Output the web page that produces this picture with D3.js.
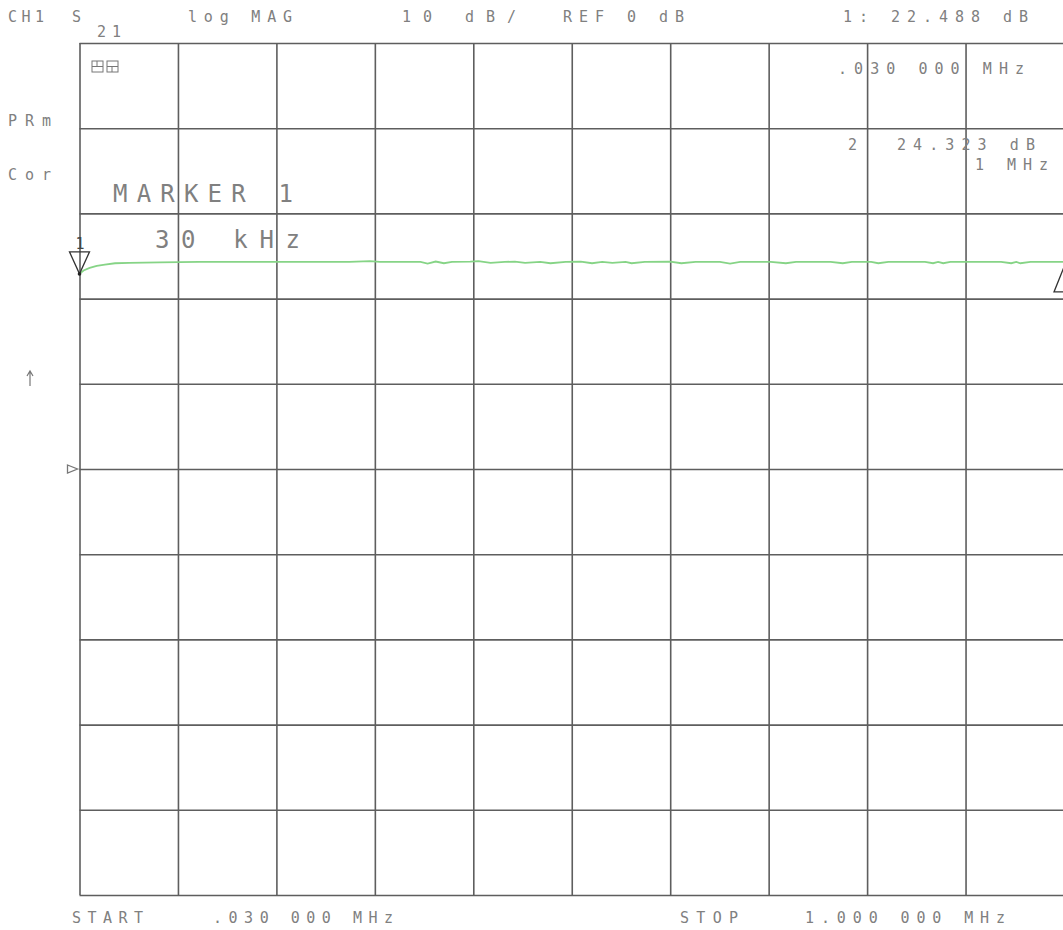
<!DOCTYPE html>
<html>
<head>
<meta charset="utf-8">
<script src="https://cdn.jsdelivr.net/npm/d3@7"></script>
<style>
  html, body { margin: 0; padding: 0; background: #fff; }
  svg { display: block; }
  text { font-family: "DejaVu Sans Mono", "Liberation Mono", monospace; fill: #808080; }
</style>
</head>
<body>
<script>
// ---- Data ----
const freqMHz = [0.030, 0.034, 0.040, 0.047, 0.055, 0.065, 0.079, 0.109, 0.148, 0.198, 0.247, 0.296, 0.316, 0.326,
  0.366, 0.373, 0.381, 0.389, 0.397, 0.415, 0.423, 0.435, 0.449, 0.459, 0.469, 0.484, 0.494, 0.509, 0.524,
  0.535, 0.545, 0.555, 0.568, 0.574, 0.587, 0.612, 0.623, 0.637, 0.661, 0.671, 0.681, 0.711, 0.726, 0.736,
  0.770, 0.782, 0.791, 0.810, 0.817, 0.827, 0.863, 0.871, 0.876, 0.881, 0.888, 0.938, 0.948, 0.953, 0.957,
  0.967, 1.000];
const s21dB = [22.9, 23.3, 23.6, 23.85, 24.0, 24.15, 24.2, 24.25, 24.3, 24.3, 24.3, 24.3, 24.4, 24.3,
  24.3, 24.1, 24.35, 24.15, 24.3, 24.35, 24.4, 24.2, 24.3, 24.35, 24.2, 24.3, 24.15, 24.3, 24.35,
  24.15, 24.3, 24.2, 24.3, 24.15, 24.3, 24.35, 24.15, 24.3, 24.3, 24.1, 24.3, 24.3, 24.15, 24.3,
  24.3, 24.15, 24.3, 24.3, 24.15, 24.3, 24.3, 24.15, 24.3, 24.15, 24.3, 24.3, 24.15, 24.3, 24.15,
  24.3, 24.3];
const xGridMHz = [0.030, 0.127, 0.224, 0.321, 0.418, 0.515, 0.612, 0.709, 0.806, 0.903, 1.000];
const yGridDB = [-50, -40, -30, -20, -10, 0, 10, 20, 30, 40, 50];
const markerFreqs = [0.030, 1.000];
const markerVals = [22.488, 24.323];
const headerLabels = ["CH1", "S", "21", "log MAG", "10 dB/", "REF 0 dB", "1: 22.488 dB"];
const sideLabels = ["PRm", "Cor"];
const markerTexts = [".030 000 MHz", "2", "24.323 dB", "1 MHz", "MARKER 1", "30 kHz"];
const footerLabels = ["START", ".030 000 MHz", "STOP", "1.000 000 MHz"];

// ---- Layout ----
const W = 1063, H = 930;
const L = 79.5, R = 1064, T = 43, B = 895;

const svg = d3.select("body").append("svg").attr("width", W).attr("height", H);

const x = d3.scaleLinear().domain([0.030, 1.000]).range([L, R]);
const y = d3.scaleLinear().domain([-50, 50]).range([B, T]);

// grid via axes
svg.append("g").attr("transform", `translate(0,${B})`)
  .call(d3.axisBottom(x).tickValues(xGridMHz).tickSize(-(B - T)).tickFormat(""));
svg.append("g").attr("transform", `translate(${L},0)`)
  .call(d3.axisLeft(y).tickValues(yGridDB).tickSize(-(R - L)).tickFormat(""));
svg.selectAll(".domain").remove();
svg.selectAll(".tick line").attr("stroke", "#5e5e5e").attr("stroke-width", 1.6);

// trace
const line = d3.line().x((d, i) => x(freqMHz[i])).y(d => y(d)).curve(d3.curveLinear);
svg.append("path").datum(s21dB).attr("d", line)
  .attr("fill", "none").attr("stroke", "#86d486").attr("stroke-width", 1.8);

// marker 1 (active, down triangle on trace)
const m1x = x(markerFreqs[0]), m1y = y(s21dB[0]);
svg.append("path")
  .attr("d", `M${m1x - 10},${m1y - 22} L${m1x + 10},${m1y - 22} L${m1x},${m1y} Z`)
  .attr("fill", "none").attr("stroke", "#333").attr("stroke-width", 1.3);
svg.append("circle").attr("cx", m1x).attr("cy", m1y).attr("r", 1.8).attr("fill", "#222");
svg.append("text").attr("x", m1x - 4).attr("y", m1y - 25).text("1")
  .style("font-size", "15px").style("fill", "#444");

// marker 2 (delta style at right edge, below trace)
const m2x = x(markerFreqs[1]), m2y = y(s21dB[s21dB.length - 1]);
svg.append("path")
  .attr("d", `M${m2x},${m2y + 5} L${m2x - 10},${m2y + 30} L${m2x + 10},${m2y + 30} Z`)
  .attr("fill", "none").attr("stroke", "#333").attr("stroke-width", 1.3);

// reference position marker at 0 dB
const r0 = y(0);
svg.append("path")
  .attr("d", `M${L - 12},${r0 - 4} L${L - 2},${r0} L${L - 12},${r0 + 4} Z`)
  .attr("fill", "none").attr("stroke", "#777").attr("stroke-width", 1.3);

// scale arrow
svg.append("path").attr("d", "M30,386 L30,372 M27,376 L30,371 L33,376")
  .attr("fill", "none").attr("stroke", "#777").attr("stroke-width", 1.2);

// small annotation icon
const ic = svg.append("g").attr("stroke", "#777").attr("fill", "none").attr("stroke-width", 1);
ic.append("rect").attr("x", 92).attr("y", 61).attr("width", 11).attr("height", 11);
ic.append("rect").attr("x", 107).attr("y", 61).attr("width", 11).attr("height", 11);
ic.append("path").attr("d", "M92,66.5 L103,66.5 M107,66.5 L118,66.5 M97,61 L97,66.5 M112,66.5 L112,72");

// text helper
function txt(s, xx, yy, len, size) {
  svg.append("text").attr("x", xx).attr("y", yy).text(s)
    .attr("textLength", len).attr("lengthAdjust", "spacing")
    .style("font-size", (size || 15) + "px");
}
// header
txt(headerLabels[0], 8, 22, 36);
txt(headerLabels[1], 72, 22, 10);
txt(headerLabels[2], 97, 37, 24);
txt(headerLabels[3], 188, 22, 104);
txt(headerLabels[4], 402, 22, 114);
txt(headerLabels[5], 563, 22, 121);
txt(headerLabels[6], 843, 22, 185);
// side
txt(sideLabels[0], 8, 126, 43);
txt(sideLabels[1], 8, 180, 43);
// marker readouts
txt(markerTexts[0], 838, 74, 186);
txt(markerTexts[1], 848, 150, 9);
txt(markerTexts[2], 897, 150, 138);
txt(markerTexts[3], 975, 170, 73);
txt(markerTexts[4], 113, 202, 180, 24);
txt(markerTexts[5], 155, 248, 145, 24);
// footer
txt(footerLabels[0], 72, 923, 71);
txt(footerLabels[1], 213, 923, 180);
txt(footerLabels[2], 680, 923, 58);
txt(footerLabels[3], 805, 923, 200);
</script>
</body>
</html>
